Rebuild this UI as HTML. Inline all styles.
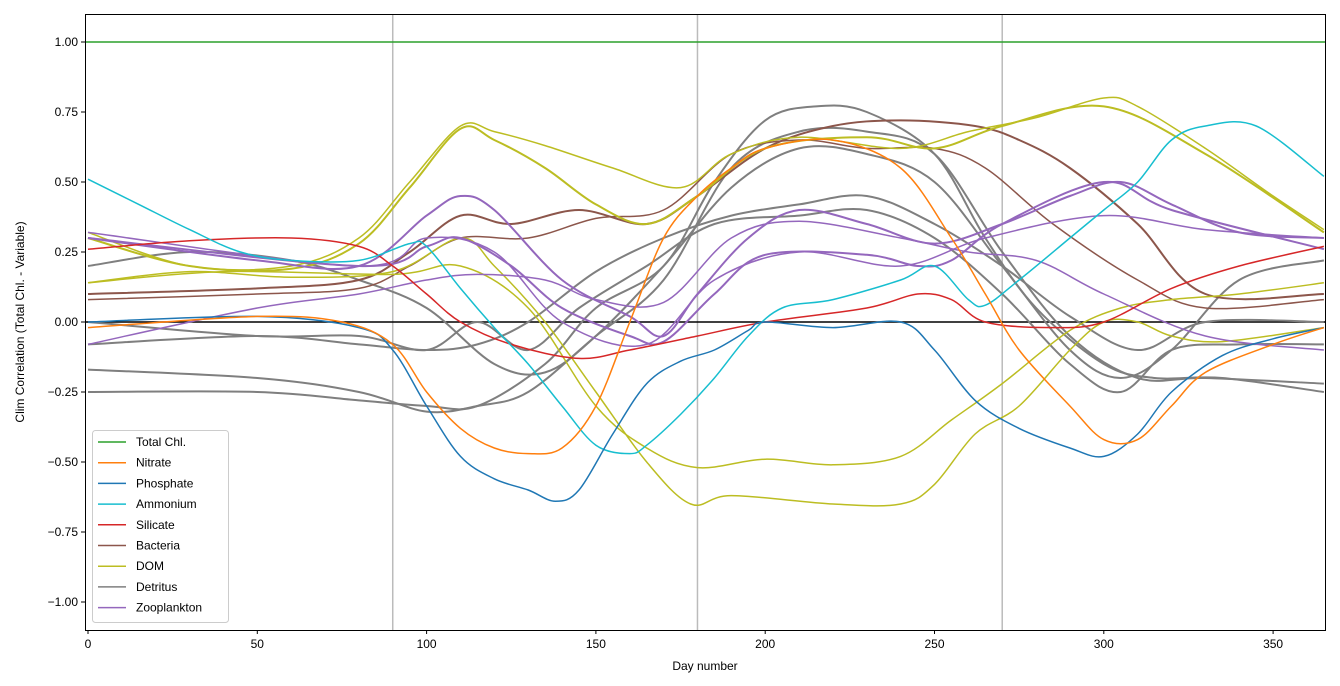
<!DOCTYPE html>
<html><head><meta charset="utf-8"><style>
body{margin:0;background:#fff}
svg{display:block;font-family:"Liberation Sans","DejaVu Sans",sans-serif}
</style></head><body>
<svg id="c" width="1340" height="686" viewBox="0 0 1340 686" xmlns="http://www.w3.org/2000/svg">
<rect width="1340" height="686" fill="#fff"/>
<g id="plot"></g>
<rect x="85.5" y="14.5" width="1240" height="616" fill="none" stroke="#000" stroke-width="1"/>
<g id="ticks" font-size="12" fill="#000"></g>
<text x="705" y="670" font-size="12" text-anchor="middle">Day number</text>
<text transform="translate(24,322) rotate(-90)" font-size="12" text-anchor="middle">Clim Correlation (Total Chl. - Variable)</text>
<g id="legend"></g>
</svg>
<script>
const X=d=>88+3.386*d, Y=v=>322-280*v;
const ns="http://www.w3.org/2000/svg";
const plot=document.getElementById('plot');
function el(t,a,p){const e=document.createElementNS(ns,t);for(const k in a)e.setAttribute(k,a[k]);(p||plot).appendChild(e);return e;}
// vertical lines
[90,180,270].forEach(d=>el('line',{x1:X(d),x2:X(d),y1:14,y2:630,stroke:'#bbb','stroke-width':1.5}));
el('line',{x1:85,x2:1325,y1:Y(0),y2:Y(0),stroke:'#000','stroke-width':1.5});
function path(pts,col,w){
  let d='';const P=pts.map(p=>[X(p[0]),Y(p[1])]);
  d='M'+P[0][0].toFixed(1)+','+P[0][1].toFixed(1);
  for(let i=0;i<P.length-1;i++){
    const p0=P[Math.max(0,i-1)],p1=P[i],p2=P[i+1],p3=P[Math.min(P.length-1,i+2)];
    const c1=[p1[0]+(p2[0]-p0[0])/6,p1[1]+(p2[1]-p0[1])/6],c2=[p2[0]-(p3[0]-p1[0])/6,p2[1]-(p3[1]-p1[1])/6];
    d+=` C${c1[0].toFixed(1)},${c1[1].toFixed(1)} ${c2[0].toFixed(1)},${c2[1].toFixed(1)} ${p2[0].toFixed(1)},${p2[1].toFixed(1)}`;
  }
  el('path',{d,fill:'none',stroke:col,'stroke-width':w||1.5});
}
const G='#7f7f7f',B='#8c564b',O='#bcbd22',Z='#9467bd';
const S=[
[G,[[0,-0.25],[50,-0.25],[80,-0.28],[100,-0.3],[115,-0.3],[135,-0.15],[150,0.05],[170,0.2],[185,0.5],[200,0.72],[215,0.77],[230,0.75],[250,0.6],[265,0.3],[280,0.05],[300,-0.15],[315,-0.2],[335,-0.2],[365,-0.25]],2],
[G,[[0,-0.17],[50,-0.2],[80,-0.25],[100,-0.32],[115,-0.3],[130,-0.25],[150,-0.05],[170,0.15],[190,0.55],[210,0.68],[230,0.68],[250,0.6],[270,0.25],[290,-0.05],[310,-0.2],[330,-0.2],[365,-0.22]],2],
[G,[[0,-0.08],[50,-0.05],[80,-0.08],[100,-0.1],[115,-0.08],[130,0],[150,0.18],[170,0.3],[190,0.38],[210,0.42],[230,0.45],[250,0.35],[270,0.2],[290,0.02],[310,-0.1],[330,0],[365,0]],2],
[G,[[0,0.2],[30,0.25],[60,0.22],[80,0.15],[100,0.05],[120,-0.15],[135,-0.18],[150,-0.05],[170,0.2],[190,0.48],[210,0.62],[230,0.6],[250,0.5],[270,0.2],[290,-0.1],[305,-0.2],[320,-0.1],[340,0.15],[365,0.22]],2],
[G,[[0,0],[50,-0.05],[80,-0.05],[100,-0.1],[115,0],[130,-0.1],[145,0.05],[165,0.2],[185,0.35],[210,0.38],[230,0.4],[250,0.3],[270,0.1],[290,-0.15],[305,-0.25],[320,-0.1],[340,-0.08],[365,-0.08]],2],
[B,[[0,0.1],[50,0.12],[80,0.15],[95,0.25],[110,0.38],[125,0.35],[145,0.4],[165,0.35],[180,0.45],[200,0.62],[220,0.7],[240,0.72],[262,0.7],[275,0.65],[290,0.55],[310,0.35],[330,0.1],[365,0.1]],2],
[B,[[0,0.08],[50,0.1],[80,0.12],[95,0.2],[110,0.3],[130,0.3],[150,0.37],[170,0.4],[190,0.6],[210,0.65],[230,0.62],[250,0.62],[265,0.55],[285,0.35],[310,0.15],[330,0.05],[365,0.08]],1.5],
[O,[[0,0.32],[30,0.2],[60,0.2],[80,0.3],[95,0.5],[110,0.7],[120,0.68],[135,0.63],[155,0.55],[175,0.48],[190,0.6],[210,0.66],[240,0.62],[260,0.68],[280,0.73],[300,0.8],[310,0.77],[330,0.62],[350,0.45],[365,0.33]],1.5],
[O,[[0,0.3],[30,0.2],[60,0.19],[80,0.28],[95,0.48],[110,0.69],[120,0.65],[135,0.55],[150,0.42],[165,0.35],[180,0.45],[200,0.62],[230,0.66],[250,0.62],[270,0.7],[300,0.77],[330,0.6],[365,0.32]],2],
[O,[[0,0.14],[30,0.18],[60,0.16],[90,0.18],[110,0.3],[120,0.2],[135,0],[150,-0.25],[165,-0.5],[178,-0.65],[190,-0.62],[220,-0.65],[240,-0.65],[250,-0.58],[262,-0.4],[275,-0.3],[290,-0.1],[300,0],[310,0],[320,-0.05],[335,-0.07],[365,-0.02]],1.5],
[O,[[0,0.14],[40,0.18],[90,0.17],[110,0.2],[130,0.05],[150,-0.3],[165,-0.45],[180,-0.52],[200,-0.49],[220,-0.51],[240,-0.48],[255,-0.35],[270,-0.22],[290,-0.03],[305,0.05],[320,0.08],[340,0.1],[365,0.14]],1.5],
[Z,[[0,0.3],[50,0.22],[80,0.2],[100,0.38],[110,0.45],[120,0.4],[140,0.15],[160,0.02],[170,-0.05],[180,0.1],[195,0.3],[210,0.4],[230,0.35],[250,0.28],[270,0.35],[290,0.45],[305,0.5],[320,0.42],[340,0.32],[365,0.3]],2],
[Z,[[0,0.3],[80,0.2],[100,0.27],[110,0.3],[125,0.2],[140,0.05],[160,-0.05],[170,-0.07],[185,0.1],[200,0.24],[230,0.24],[245,0.2],[255,0.22],[270,0.35],[300,0.5],[320,0.4],[365,0.26]],2],
[Z,[[0,-0.08],[50,0.05],[80,0.1],[100,0.15],[115,0.17],[135,0.15],[150,0.08],[170,0.07],[190,0.3],[210,0.36],[240,0.3],[260,0.25],[280,0.22],[300,0.1],[330,-0.05],[365,-0.1]],1.5],
[Z,[[0,0.32],[80,0.2],[100,0.3],[120,0.25],[140,0],[165,-0.08],[185,0.15],[210,0.25],[240,0.2],[265,0.3],[300,0.38],[330,0.33],[365,0.3]],1.5],
['#d62728',[[0,0.26],[30,0.29],[60,0.3],[80,0.27],[90,0.2],[100,0.1],[110,0],[125,-0.08],[145,-0.13],[160,-0.1],[180,-0.05],[200,0],[230,0.05],[245,0.1],[255,0.08],[265,0],[285,-0.02],[300,0],[320,0.12],[340,0.2],[365,0.27]],1.5],
['#17becf',[[0,0.51],[15,0.42],[30,0.33],[45,0.25],[60,0.22],[80,0.22],[95,0.28],[100,0.27],[110,0.12],[120,-0.02],[130,-0.15],[140,-0.3],[150,-0.44],[160,-0.47],[165,-0.44],[175,-0.33],[185,-0.2],[195,-0.05],[205,0.05],[220,0.08],[240,0.15],[250,0.2],[260,0.08],[265,0.06],[275,0.15],[290,0.3],[300,0.4],[310,0.5],[320,0.65],[330,0.7],[345,0.7],[365,0.52]],1.5],
['#1f77b4',[[0,0],[50,0.02],[80,-0.02],[90,-0.1],[100,-0.3],[110,-0.48],[120,-0.56],[130,-0.6],[138,-0.64],[145,-0.6],[155,-0.4],[165,-0.22],[175,-0.14],[185,-0.1],[195,-0.03],[200,0],[220,-0.02],[240,0],[250,-0.1],[262,-0.28],[275,-0.38],[290,-0.45],[300,-0.48],[310,-0.4],[320,-0.25],[335,-0.12],[350,-0.06],[365,-0.02]],1.5],
['#ff7f0e',[[0,-0.02],[50,0.02],[75,0],[90,-0.08],[100,-0.25],[110,-0.38],[120,-0.45],[130,-0.47],[140,-0.45],[150,-0.3],[160,0],[170,0.3],[180,0.45],[190,0.55],[200,0.62],[220,0.65],[240,0.55],[255,0.3],[265,0.1],[275,-0.1],[290,-0.3],[300,-0.42],[310,-0.42],[320,-0.3],[330,-0.18],[350,-0.08],[365,-0.02]],1.5],
];
S.forEach(s=>path(s[1],s[0],s[2]));
el('line',{x1:85,x2:1325,y1:Y(1),y2:Y(1),stroke:'#2ca02c','stroke-width':1.5});
// ticks
const T=document.getElementById('ticks');
for(let d=0;d<=350;d+=50){el('line',{x1:X(d),x2:X(d),y1:630,y2:634,stroke:'#000'},T);const t=el('text',{x:X(d),y:648,'text-anchor':'middle'},T);t.textContent=d;}
for(let v=-1;v<=1.001;v+=0.25){el('line',{x1:81,x2:85,y1:Y(v),y2:Y(v),stroke:'#000'},T);const t=el('text',{x:78,y:Y(v)+4,'text-anchor':'end'},T);t.textContent=v.toFixed(2).replace('-','−');}
// legend
const L=document.getElementById('legend');
el('rect',{x:92.5,y:430.5,width:136,height:192,rx:3,fill:'#fff',stroke:'#ccc','fill-opacity':0.8},L);
const names=[['Total Chl.','#2ca02c'],['Nitrate','#ff7f0e'],['Phosphate','#1f77b4'],['Ammonium','#17becf'],['Silicate','#d62728'],['Bacteria',B],['DOM',O],['Detritus',G],['Zooplankton',Z]];
names.forEach((n,i)=>{const y=442+i*20.7;el('line',{x1:98,x2:126,y1:y,y2:y,stroke:n[1],'stroke-width':1.5},L);const t=el('text',{x:136,y:y+4,'font-size':12},L);t.textContent=n[0];});
</script>
</body></html>
